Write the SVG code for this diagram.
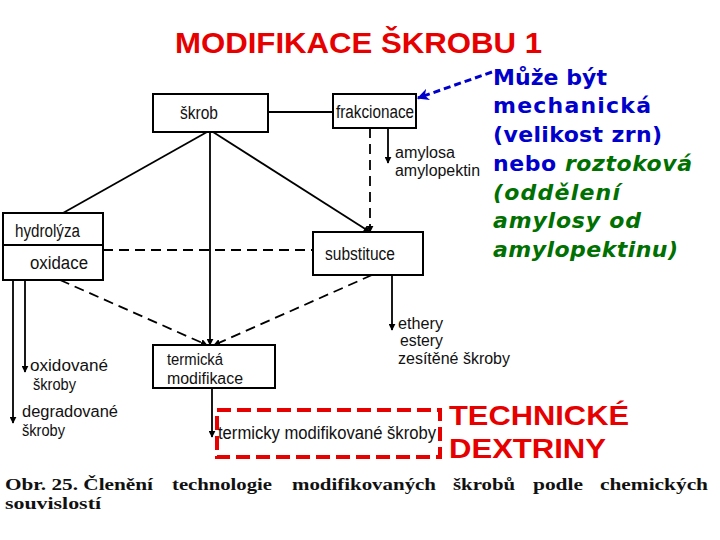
<svg xmlns="http://www.w3.org/2000/svg" width="720" height="540" viewBox="0 0 720 540">
<style>
.box{fill:#fff;stroke:#000;stroke-width:2}
.lbl{font-family:"Liberation Sans Narrow","Liberation Sans",Arial,sans-serif;font-size:18px;fill:#111}
.sm{font-size:16px}
.ln{stroke:#000;stroke-width:1.8;fill:none}
.dash{stroke-dasharray:10 6}
.blue{font-family:"DejaVu Sans",Verdana,sans-serif;font-weight:bold;font-size:22px;fill:#0000CC}
.green{font-family:"DejaVu Sans",Verdana,sans-serif;font-weight:bold;font-style:italic;font-size:22px;fill:#007000}
.red{font-family:"Liberation Sans",Arial,sans-serif;font-weight:bold;fill:#E60000}
.cap{font-family:"Liberation Serif","Times New Roman",serif;font-weight:bold;font-size:17px;fill:#111}
</style>
<defs>
<marker id="ah" viewBox="0 0 10 10" refX="9" refY="5" markerWidth="7" markerHeight="7" markerUnits="userSpaceOnUse" orient="auto">
<path d="M0,0 L10,5 L0,10 z" fill="#000"/>
</marker>
<marker id="ahb" viewBox="0 0 10 10" refX="9" refY="5" markerWidth="12" markerHeight="12" markerUnits="userSpaceOnUse" orient="auto">
<path d="M0,0 L10,5 L0,10 L3,5 z" fill="#0000CC"/>
</marker>
</defs>
<rect width="720" height="540" fill="#fff"/>
<text class="red" x="175" y="53" font-size="30" textLength="367" lengthAdjust="spacingAndGlyphs">MODIFIKACE ŠKROBU 1</text>

<g id="connectors">
<line class="ln" x1="268" y1="112" x2="333" y2="112"/>
<line class="ln" x1="207" y1="132" x2="63" y2="213"/>
<line class="ln" x1="210" y1="132" x2="210" y2="345" marker-end="url(#ah)"/>
<line class="ln" x1="213" y1="132" x2="370" y2="232" marker-end="url(#ah)"/>
<line class="ln dash" x1="370" y1="128" x2="370" y2="232" marker-end="url(#ah)"/>
<line class="ln" x1="388" y1="128" x2="388" y2="163" marker-end="url(#ah)"/>
<line class="ln dash" x1="103" y1="250" x2="313" y2="250"/>
<line class="ln dash" x1="60" y1="280" x2="207" y2="345" marker-end="url(#ah)"/>
<line class="ln dash" x1="372" y1="275" x2="214" y2="345" marker-end="url(#ah)"/>
<line class="ln" x1="392" y1="275" x2="392" y2="330" marker-end="url(#ah)"/>
<line class="ln" x1="212" y1="388" x2="212" y2="437" marker-end="url(#ah)"/>
<line class="ln" x1="13" y1="230" x2="13" y2="423" marker-end="url(#ah)"/>
<line class="ln" x1="25" y1="262" x2="25" y2="372" marker-end="url(#ah)"/>
<line x1="492" y1="72" x2="418" y2="98" stroke="#0000CC" stroke-width="3" stroke-dasharray="7 4" marker-end="url(#ahb)"/>
</g>

<g id="skrob">
<rect class="box" x="153" y="94" width="115" height="38"/>
<text class="lbl" x="180" y="119" textLength="38" lengthAdjust="spacingAndGlyphs">škrob</text>
</g>
<g id="frakcionace">
<rect class="box" x="333" y="94" width="83" height="34"/>
<text class="lbl" x="336" y="118" textLength="78" lengthAdjust="spacingAndGlyphs">frakcionace</text>
</g>
<g id="amylosa">
<text class="lbl sm" x="395" y="158" textLength="60" lengthAdjust="spacingAndGlyphs">amylosa</text>
<text class="lbl sm" x="395" y="176" textLength="85" lengthAdjust="spacingAndGlyphs">amylopektin</text>
</g>
<g id="hydrolyza">
<rect class="box" x="3" y="213" width="100" height="67"/>
<line class="ln" x1="3" y1="245" x2="103" y2="245"/>
<text class="lbl" x="15" y="237" textLength="65" lengthAdjust="spacingAndGlyphs">hydrolýza</text>
<text class="lbl" x="30" y="269" textLength="58" lengthAdjust="spacingAndGlyphs">oxidace</text>
</g>
<g id="substituce">
<rect class="box" x="313" y="232" width="110" height="43"/>
<text class="lbl" x="325" y="260" textLength="70" lengthAdjust="spacingAndGlyphs">substituce</text>
</g>
<g id="termicka">
<rect class="box" x="153" y="345" width="122" height="43"/>
<text class="lbl sm" x="167" y="365" textLength="56" lengthAdjust="spacingAndGlyphs">termická</text>
<text class="lbl sm" x="167" y="384" textLength="76" lengthAdjust="spacingAndGlyphs">modifikace</text>
</g>
<g id="oxidovane">
<text class="lbl sm" x="30" y="371" textLength="78" lengthAdjust="spacingAndGlyphs">oxidované</text>
<text class="lbl sm" x="33" y="390" textLength="43" lengthAdjust="spacingAndGlyphs">škroby</text>
</g>
<g id="degradovane">
<text class="lbl sm" x="22" y="417" textLength="96" lengthAdjust="spacingAndGlyphs">degradované</text>
<text class="lbl sm" x="22" y="436" textLength="43" lengthAdjust="spacingAndGlyphs">škroby</text>
</g>
<g id="ethery">
<text class="lbl sm" x="398" y="329" textLength="45" lengthAdjust="spacingAndGlyphs">ethery</text>
<text class="lbl sm" x="400" y="346" textLength="43" lengthAdjust="spacingAndGlyphs">estery</text>
<text class="lbl sm" x="398" y="364" textLength="112" lengthAdjust="spacingAndGlyphs">zesítěné škroby</text>
</g>
<g id="termicky-skroby">
<rect x="217" y="410" width="223" height="47" fill="none" stroke="#E60000" stroke-width="4" stroke-dasharray="14 6"/>
<text class="lbl" x="218" y="439" textLength="218" lengthAdjust="spacingAndGlyphs">termicky modifikované škroby</text>
</g>
<g id="dextriny">
<text class="red" x="449" y="425" font-size="27" textLength="180" lengthAdjust="spacingAndGlyphs">TECHNICKÉ</text>
<text class="red" x="449" y="458" font-size="27" textLength="157" lengthAdjust="spacingAndGlyphs">DEXTRINY</text>
</g>
<g id="note">
<text class="blue" x="493" y="85" textLength="114">Může být</text>
<text class="blue" x="493" y="113" textLength="158">mechanická</text>
<text class="blue" x="493" y="142" textLength="169">(velikost zrn)</text>
<text x="493" y="171" textLength="199"><tspan class="blue">nebo </tspan><tspan class="green">roztoková</tspan></text>
<text class="green" x="493" y="200" textLength="127">(oddělení</text>
<text class="green" x="493" y="228" textLength="148">amylosy od</text>
<text class="green" x="493" y="257" textLength="185">amylopektinu)</text>
</g>
<g id="caption">
<text class="cap" x="5" y="490" textLength="148" lengthAdjust="spacingAndGlyphs">Obr. 25. Členění</text>
<text class="cap" x="172" y="490" textLength="100" lengthAdjust="spacingAndGlyphs">technologie</text>
<text class="cap" x="292" y="490" textLength="144" lengthAdjust="spacingAndGlyphs">modifikovaných</text>
<text class="cap" x="453" y="490" textLength="62" lengthAdjust="spacingAndGlyphs">škrobů</text>
<text class="cap" x="533" y="490" textLength="50" lengthAdjust="spacingAndGlyphs">podle</text>
<text class="cap" x="600" y="490" textLength="108" lengthAdjust="spacingAndGlyphs">chemických</text>
<text class="cap" x="5" y="509" textLength="96" lengthAdjust="spacingAndGlyphs">souvislostí</text>
</g>
</svg>
